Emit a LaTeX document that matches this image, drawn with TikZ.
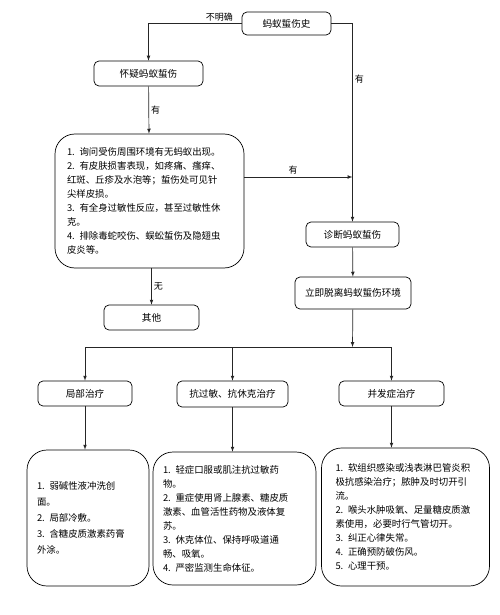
\documentclass[tikz,border=0pt]{standalone}
\usepackage{fontspec}
\setmainfont{Noto Sans CJK SC}
\usetikzlibrary{arrows,positioning}
\tikzset{
  flow/.style={draw=black!85, line width=0.7pt, -latex},
}
\begin{document}
\begin{tikzpicture}[x=1pt,y=-1pt,
block/.style={rectangle,draw,rounded corners=5pt,line width=0.7pt,
minimum height=25pt,inner sep=2pt,
font=\fontsize{9.6}{11}\selectfont,anchor=center},
textblock/.style={rectangle,draw,rounded corners=20pt,line width=0.7pt,
align=left,inner xsep=10pt,
font=\fontsize{9.4}{14}\selectfont,anchor=center},
lab/.style={font=\fontsize{9}{10}\selectfont,inner sep=2pt},
]
\useasboundingbox (0,0) rectangle (500,615);
\node (hist) [block,minimum width=89pt,minimum height=23pt] at (286.5,23.5) {蚂蚁蜇伤史};
\node (susp) [block,minimum width=109pt] at (148.5,73.5) {怀疑蚂蚁蜇伤};
\node (check) [textblock,text width=165pt,inner xsep=12pt,minimum height=134pt] at (149.5,201)
{1. 询问受伤周围环境有无蚂蚁出现。\\
2. 有皮肤损害表现，如疼痛、瘙痒、\\
红斑、丘疹及水泡等；蜇伤处可见针\\
尖样皮损。\\
3. 有全身过敏性反应，甚至过敏性休\\
克。\\
4. 排除毒蛇咬伤、蜈蚣蜇伤及隐翅虫\\
皮炎等。};
\node (diag) [block,minimum width=93pt] at (352.5,234.5) {诊断蚂蚁蜇伤};
\node (leave) [block,minimum width=116pt,minimum height=32pt] at (353,293) {立即脱离蚂蚁蜇伤环境};
\node (other) [block,minimum width=95pt] at (151.5,317.5) {其他};
\node (local) [block,minimum width=94pt] at (85,393.5) {局部治疗};
\node (anti) [block,minimum width=111pt,minimum height=26pt] at (232.5,394) {抗过敏、抗休克治疗};
\node (comp) [block,minimum width=105pt] at (391.5,393.5) {并发症治疗};
\node (d1) [textblock,text width=102pt,minimum height=136pt,
font=\fontsize{9.4}{16}\selectfont] at (88,518)
{1. 弱碱性液冲洗创\\
面。\\
2. 局部冷敷。\\
3. 含糖皮质激素药膏\\
外涂。};
\node (d2) [textblock,text width=143pt,minimum height=133pt] at (234.5,518.5)
{1. 轻症口服或肌注抗过敏药\\
物。\\
2. 重症使用肾上腺素、糖皮质\\
激素、血管活性药物及液体复\\
苏。\\
3. 休克体位、保持呼吸道通\\
畅、吸氧。\\
4. 严密监测生命体征。};
\node (d3) [textblock,text width=140pt,inner xsep=14pt,minimum height=138pt] at (405.5,517)
{1. 软组织感染或浅表淋巴管炎积\\
极抗感染治疗；脓肿及时切开引\\
流。\\
2. 喉头水肿吸氧、足量糖皮质激\\
素使用，必要时行气管切开。\\
3. 纠正心律失常。\\
4. 正确预防破伤风。\\
5. 心理干预。};
\coordinate (j) at (352.5,177);
\coordinate (bus) at (352.5,347);
\draw[flow] (hist.west) -| (susp.north) node[lab,pos=0.12,above] {不明确};
\draw[flow] (hist.east) -| (diag.north) node[lab,pos=0.64,right] {有};
\draw[flow] (susp) -- (check) node[lab,midway,right] {有};
\draw[flow] (check.east |- j) -- (j) node[lab,pos=0.45,above] {有};
\draw[flow] (check.south -| other.north) -- (other.north) node[lab,midway,right] {无};
\draw[flow] (diag) -- (leave);
\draw[flow] (leave) -- (bus);
\draw[draw=black!85,line width=0.7pt] (local.north |- bus) -- (comp.north |- bus);
\foreach \n in {local,anti,comp}
  \draw[flow] (\n.north |- bus) -- (\n.north);
\foreach \a/\b in {local/d1,anti/d2,comp/d3}
  \draw[flow] (\a.south) -- (\a.south |- \b.north);
\end{tikzpicture}
\end{document}
